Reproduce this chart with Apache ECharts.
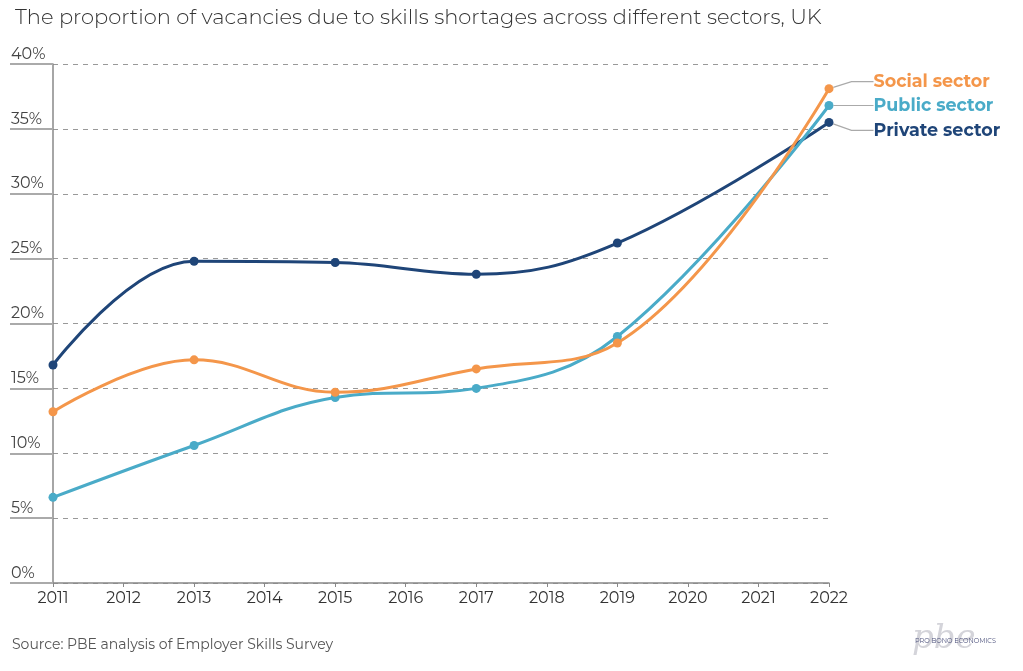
<!DOCTYPE html>
<html>
<head>
<meta charset="utf-8">
<script src="https://cdn.jsdelivr.net/npm/echarts@6/dist/echarts.min.js"></script>
<style>html,body{margin:0;padding:0;background:#fff;}#c{width:1023px;height:671px;}</style>
</head>
<body>
<div id="c"></div>
<script>
const years = [2011, 2013, 2015, 2017, 2019, 2022];
const privateSector = [16.8, 24.8, 24.7, 23.8, 26.2, 35.5];
const publicSector = [6.6, 10.6, 14.3, 15.0, 19.0, 36.8];
const socialSector = [13.2, 17.2, 14.7, 16.5, 18.5, 38.1];
const seriesNames = ['Private sector', 'Public sector', 'Social sector'];
const yTicks = [0, 5, 10, 15, 20, 25, 30, 35, 40];

const colors = { 'Private sector': '#1f4578', 'Public sector': '#4aabc8', 'Social sector': '#f4964a' };
const labelDy = { 'Private sector': 8, 'Public sector': 0, 'Social sector': -7 };
const font = 'Montserrat, "Noto Sans", "Open Sans", sans-serif';

function mk(name, vals) {
  const c = colors[name];
  return {
    name: name,
    type: 'line',
    smooth: 0.4,
    data: years.map((y, i) => {
      const item = { value: [y, vals[i]] };
      if (i === years.length - 1) {
        item.label = {
          show: true, position: 'right', distance: 5,
          formatter: name, color: c, fontSize: 17.5, fontWeight: 'bold', fontFamily: font
        };
      }
      return item;
    }),
    symbol: 'circle',
    symbolSize: 9,
    lineStyle: { color: c, width: 3 },
    itemStyle: { color: c },
    label: { show: false },
    labelLayout: { dx: 35, dy: labelDy[name] },
    labelLine: { show: true, length2: 22, lineStyle: { color: '#aaa', width: 1.2 } },
    emphasis: { disabled: true },
    animation: false
  };
}

const chart = echarts.init(document.getElementById('c'));
chart.setOption({
  backgroundColor: '#fff',
  animation: false,
  title: {
    text: 'The proportion of vacancies due to skills shortages across different sectors, UK',
    left: 10, top: 2,
    textStyle: { fontFamily: font, fontSize: 21, fontWeight: 300, color: '#333' }
  },
  grid: { left: 53, right: 194, top: 64, bottom: 88, containLabel: false },
  xAxis: {
    type: 'value', min: 2011, max: 2022, interval: 1,
    axisLine: { show: true, lineStyle: { color: '#888', width: 1.5 } },
    axisTick: { show: true, length: 4, lineStyle: { color: '#888' } },
    splitLine: { show: false },
    axisLabel: { formatter: v => String(v), color: '#333', fontSize: 16, fontFamily: font, margin: 7 }
  },
  yAxis: {
    type: 'value', min: yTicks[0], max: yTicks[yTicks.length - 1], interval: 5,
    axisLine: { show: true, lineStyle: { color: '#888', width: 1.5 } },
    axisTick: { show: true, length: 43, lineStyle: { color: '#aaa', width: 2 } },
    splitLine: { show: true, lineStyle: { color: '#999', type: [5, 5], width: 1 } },
    axisLabel: { formatter: '{value}%', color: '#444', fontSize: 16, fontFamily: font, align: 'left', verticalAlign: 'bottom', margin: 42, padding: [0, 0, 2, 0] }
  },
  series: [
    mk('Private sector', privateSector),
    mk('Public sector', publicSector),
    mk('Social sector', socialSector)
  ],
  graphic: [
    { type: 'text', left: 12, top: 638, style: { text: 'Source: PBE analysis of Employer Skills Survey', fill: '#555', fontSize: 14, fontFamily: font } },
    { type: 'text', left: 912, top: 622, style: { text: 'pbe', fill: '#d4d4da', fontSize: 34, fontStyle: 'italic', fontFamily: 'DejaVu Serif' } },
    { type: 'text', left: 915, top: 638, style: { text: 'PRO BONO ECONOMICS', fill: '#4a4f7a', fontSize: 6.5, fontFamily: font } }
  ]
});
</script>
</body>
</html>
